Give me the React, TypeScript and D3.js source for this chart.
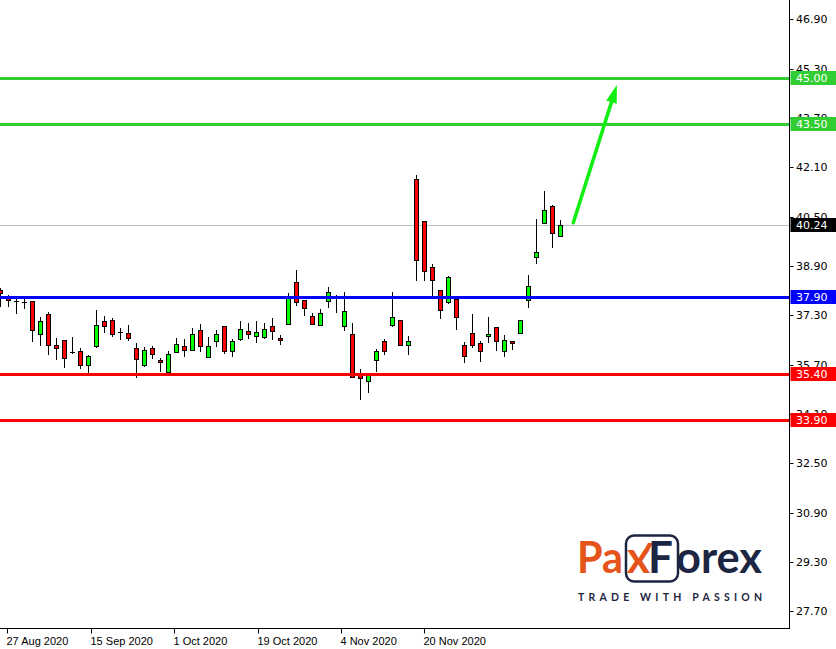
import { scaleLinear } from "d3";

// daily candles, left to right
const opens = [38.12, 37.88, 37.76, 37.73, 37.75, 36.68, 37.33, 36.32, 36.49, 36.11, 36.14, 35.68, 36.31, 37.1, 37.14, 36.77, 36.71, 36.23, 35.7, 36.23, 35.84, 35.47, 36.12, 36.29, 36.16, 36.81, 35.94, 36.45, 36.94, 36.13, 36.52, 36.78, 36.62, 36.58, 36.94, 36.55, 37.01, 38.37, 37.78, 37.27, 36.97, 37.76, 37.88, 36.94, 36.68, 35.35, 35.16, 35.84, 36.45, 36.97, 37.14, 36.32, 41.71, 40.35, 38.85, 38.11, 37.72, 37.82, 36.32, 36.71, 36.39, 36.62, 36.91, 36.13, 36.45, 36.71, 37.78, 39.18, 40.28, 40.83, 39.86];
const highs = [38.18, 37.96, 37.87, 37.87, 37.77, 37.24, 37.4, 36.55, 36.51, 36.58, 36.23, 36.02, 37.46, 37.27, 37.2, 36.88, 36.97, 36.4, 36.26, 36.29, 35.9, 36.13, 36.55, 36.52, 36.88, 37.02, 36.58, 36.81, 36.96, 36.52, 37.1, 37.04, 37.1, 37.04, 37.2, 36.65, 38.01, 38.76, 37.8, 37.36, 37.49, 38.22, 37.96, 38.04, 37.04, 35.55, 35.42, 36.19, 36.52, 38.04, 37.16, 36.62, 41.84, 40.37, 38.95, 38.13, 38.56, 37.85, 36.42, 37.33, 36.45, 37.23, 36.93, 36.65, 36.47, 37.16, 38.6, 40.41, 41.32, 40.87, 40.38];
const lows = [37.58, 37.58, 37.33, 37.51, 36.44, 36.31, 36.02, 35.84, 35.6, 36.04, 35.55, 35.44, 36.23, 36.73, 36.6, 36.49, 36.47, 35.27, 35.63, 35.89, 35.45, 35.45, 36.08, 35.95, 36.14, 36.1, 35.93, 36.26, 36.03, 35.94, 36.45, 36.52, 36.39, 36.52, 36.49, 36.32, 36.97, 37.59, 37.27, 36.97, 36.96, 37.55, 37.36, 36.78, 35.25, 34.54, 34.77, 35.45, 36.0, 36.91, 36.3, 36.0, 38.4, 38.4, 37.85, 37.17, 37.65, 36.81, 35.74, 36.23, 35.77, 36.39, 36.13, 35.94, 36.16, 36.7, 37.55, 38.95, 40.25, 39.47, 39.85];
const closes = [38.01, 37.78, 37.76, 37.73, 36.81, 37.1, 36.32, 36.23, 35.92, 36.11, 35.68, 35.97, 36.97, 36.94, 36.68, 36.77, 36.55, 35.87, 36.16, 36.03, 35.77, 36.03, 36.36, 36.16, 36.68, 36.29, 36.29, 36.68, 36.13, 36.45, 36.84, 36.68, 36.75, 36.84, 36.78, 36.49, 37.88, 37.72, 37.52, 37.01, 37.36, 38.07, 37.88, 37.43, 35.29, 35.25, 35.35, 36.13, 36.13, 37.23, 36.32, 36.45, 39.08, 38.73, 38.43, 37.46, 38.53, 37.23, 35.97, 36.32, 36.13, 36.68, 36.45, 36.49, 36.39, 37.14, 38.24, 39.34, 40.7, 39.96, 40.24];

const priceTicks = [27.7, 29.3, 30.9, 32.5, 34.1, 35.7, 37.3, 38.9, 40.5, 42.1, 43.7, 45.3, 46.9];
const dateLabels = ["27 Aug 2020", "15 Sep 2020", "1 Oct 2020", "19 Oct 2020", "4 Nov 2020", "20 Nov 2020"];

const targetLevels = [45.0, 43.5];
const pivotLevel = 37.9;
const supportLevels = [35.4, 33.9];
const lastPrice = 40.24;

// forecast arrow: [bar, price] start and tip
const arrowFrom = [71.6, 40.3];
const arrowTo = [77.05, 44.77];

const W = 836;
const H = 649;
const axisX = 789.5;
const axisY = 628.5;

const GREEN_LVL = "#32cd32";
const BULL = "#00ff00";
const BEAR = "#ff0000";
const ORANGE = "#e5541b";
const NAVY = "#1c2541";

export default function App() {
  const x = scaleLinear().domain([0, 70]).range([0.5, 560.5]);
  const y = scaleLinear().domain([27.7, 46.9]).range([611.2, 19.3]);

  const px = (i: number) => Math.floor(x(i)) + 0.5;
  const py = (v: number) => Math.round(y(v));
  const lineY = (v: number) => Math.round(y(v)) + 0.5;

  // date labels sit every ~10.4 bars, first at bar 0.87
  const labelX = (k: number) => Math.round(x(0.87 + k * 10.42)) + 0.5;

  const ax = x(arrowFrom[0]);
  const ay = y(arrowFrom[1]);
  const tx = x(arrowTo[0]);
  const ty = y(arrowTo[1]);
  const len = Math.hypot(tx - ax, ty - ay);
  const ux = (tx - ax) / len;
  const uy = (ty - ay) / len;
  const headLen = 18;
  const headHalf = 5.5;
  const bx = tx - ux * headLen;
  const by = ty - uy * headLen;
  const head = [
    [tx, ty],
    [bx - uy * headHalf, by + ux * headHalf],
    [bx + uy * headHalf, by - ux * headHalf],
  ]
    .map((p) => p.join(","))
    .join(" ");

  const tag = (v: number, fill: string, key: string) => (
    <g key={key}>
      <rect x={790.5} y={lineY(v) - 7.5} width={46} height={14} fill={fill} />
      <text
        x={796}
        y={lineY(v)}
        dy="0.36em"
        fill="#fff"
        fontFamily="DejaVu Sans"
        fontSize={11}
      >
        {v.toFixed(2)}
      </text>
    </g>
  );

  return (
    <div style={{ position: "fixed", left: 0, top: 0, background: "#fff" }}>
      <svg width={W} height={H} style={{ display: "block" }}>
        <rect width={W} height={H} fill="#fff" />

        {/* last price line */}
        <line x1={0} x2={axisX} y1={lineY(lastPrice)} y2={lineY(lastPrice)} stroke="#c0c0c0" strokeWidth={1} />

        {/* candles */}
        {opens.map((o, i) => {
          const c = closes[i];
          const cx = px(i);
          const top = py(Math.max(o, c));
          const bot = py(Math.min(o, c));
          return (
            <g key={i}>
              <line x1={cx} x2={cx} y1={py(highs[i])} y2={py(lows[i])} stroke="#000" strokeWidth={1} />
              {bot - top < 1 ? (
                <line x1={cx - 2.5} x2={cx + 2.5} y1={top + 0.5} y2={top + 0.5} stroke="#000" strokeWidth={1} />
              ) : (
                <rect
                  x={cx - 2}
                  y={top + 0.5}
                  width={4}
                  height={bot - top}
                  fill={c > o ? BULL : BEAR}
                  stroke="#000"
                  strokeWidth={1}
                />
              )}
            </g>
          );
        })}

        {/* levels */}
        {targetLevels.map((v) => (
          <line key={"t" + v} x1={0} x2={axisX} y1={lineY(v)} y2={lineY(v)} stroke={GREEN_LVL} strokeWidth={3} />
        ))}
        <line x1={0} x2={axisX} y1={lineY(pivotLevel)} y2={lineY(pivotLevel)} stroke="#0000ff" strokeWidth={3} />
        {supportLevels.map((v) => (
          <line key={"s" + v} x1={0} x2={axisX} y1={lineY(v)} y2={lineY(v)} stroke={BEAR} strokeWidth={3} />
        ))}

        {/* arrow */}
        <line x1={ax} y1={ay} x2={bx} y2={by} stroke="#11ee11" strokeWidth={3.5} strokeLinecap="round" />
        <polygon points={head} fill="#11ee11" />

        {/* logo */}
        <g>
          <text x={577} y={573} fill={ORANGE} fontFamily="Lato" fontWeight={700} fontSize={44} textLength={46} lengthAdjust="spacingAndGlyphs">
            Pa
          </text>
          <rect x={626} y={535.5} width={52} height={46} rx={8} fill="none" stroke={NAVY} strokeWidth={2.5} />
          <text x={627} y={573} fill={ORANGE} fontFamily="Lato" fontWeight={700} fontSize={44}>
            x
          </text>
          <polygon points="644,550 648,543 653,543 649,550" fill={ORANGE} />
          <text x={648} y={573} fill={NAVY} fontFamily="Lato" fontWeight={700} fontSize={44}>
            F
          </text>
          <text x={676} y={573} fill={NAVY} fontFamily="Lato" fontWeight={700} fontSize={44} textLength={86} lengthAdjust="spacingAndGlyphs">
            orex
          </text>
          <text x={578} y={601} fill={NAVY} fontFamily="Lato" fontWeight={700} fontSize={10.5} textLength={184} lengthAdjust="spacing">
            TRADE WITH PASSION
          </text>
        </g>

        {/* axes */}
        <line x1={axisX} x2={axisX} y1={0} y2={axisY + 0.5} stroke="#000" />
        <line x1={0} x2={axisX} y1={axisY} y2={axisY} stroke="#000" />

        {priceTicks.map((v) => (
          <g key={v}>
            <line x1={axisX} x2={axisX + 4} y1={lineY(v)} y2={lineY(v)} stroke="#000" />
            <text x={796} y={lineY(v)} dy="0.36em" fontFamily="DejaVu Sans" fontSize={11} fill="#000">
              {v.toFixed(2)}
            </text>
          </g>
        ))}

        {dateLabels.map((d, k) => (
          <g key={d}>
            <line x1={labelX(k)} x2={labelX(k)} y1={axisY} y2={axisY + 5} stroke="#000" />
            <text x={labelX(k) - 1} y={645} fontFamily="Liberation Sans" fontSize={11} fill="#000">
              {d}
            </text>
          </g>
        ))}

        {/* price tags */}
        {targetLevels.map((v) => tag(v, GREEN_LVL, "tt" + v))}
        {tag(pivotLevel, "#0000ff", "tp")}
        {supportLevels.map((v) => tag(v, BEAR, "ts" + v))}
        {tag(lastPrice, "#000", "tl")}
      </svg>
    </div>
  );
}
